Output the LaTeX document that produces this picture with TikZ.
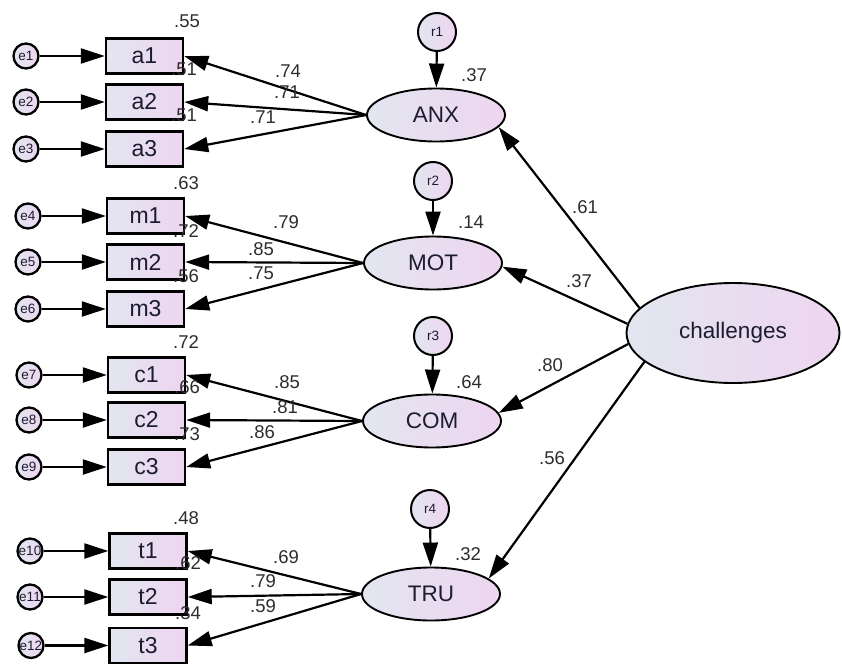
\documentclass[tikz,border=0pt]{standalone}
\usepackage{fontspec}
\setmainfont{Liberation Sans}
\usetikzlibrary{arrows.meta,shapes.geometric}
\definecolor{fillL}{RGB}{226,230,240}
\definecolor{fillR}{RGB}{238,213,240}
\definecolor{txt}{RGB}{28,28,48}
\definecolor{lbl}{RGB}{45,45,45}
\begin{document}
\begin{tikzpicture}[x=1pt,y=-1pt,
  obs/.style={draw, line width=2.4pt, rectangle, minimum width=77pt, minimum height=35pt, inner sep=0pt,
    left color=fillL, right color=fillR, font=\fontsize{23}{23}\selectfont, text=txt},
  lat/.style={draw, line width=1.9pt, ellipse, minimum width=138pt, minimum height=53pt, inner sep=0pt,
    left color=fillL, right color=fillR, font=\fontsize{22.5}{22.5}\selectfont, text=txt},
  err/.style={draw, circle, line width=2.3pt, minimum size=25pt, inner sep=0pt,
    left color=fillL, right color=fillR, font=\fontsize{13.5}{13.5}\selectfont, text=txt},
  res/.style={err, line width=2pt, minimum size=38pt},
  arr/.style={line width=2.2pt, -{Triangle[length=24pt,width=15pt]}},
  val/.style={font=\fontsize{18.5}{18.5}\selectfont, text=lbl, inner sep=0pt}
]
\fill[white] (0,0) rectangle (842,666);
\useasboundingbox (0,0) rectangle (842,666);

% observed variables
\node[obs] (a1) at (144.5,56) {a1};
\node[obs] (a2) at (144.5,102) {a2};
\node[obs] (a3) at (144.5,149) {a3};
\node[obs] (m1) at (145.5,216) {m1};
\node[obs] (m2) at (145.5,262) {m2};
\node[obs] (m3) at (145.5,309) {m3};
\node[obs] (c1) at (146.5,375) {c1};
\node[obs] (c2) at (146.5,420) {c2};
\node[obs] (c3) at (146.5,467) {c3};
\node[obs] (t1) at (148,551) {t1};
\node[obs] (t2) at (148,597) {t2};
\node[obs] (t3) at (148,645.5) {t3};

% error terms
\node[err] (e1) at (26,56) {e1};
\node[err] (e2) at (26,102) {e2};
\node[err] (e3) at (26,149) {e3};
\node[err] (e4) at (28,216) {e4};
\node[err] (e5) at (28,262) {e5};
\node[err] (e6) at (28,309) {e6};
\node[err] (e7) at (29,375) {e7};
\node[err] (e8) at (29,420) {e8};
\node[err] (e9) at (29,467) {e9};
\node[err] (e10) at (30,551) {e10};
\node[err] (e11) at (30,597) {e11};
\node[err] (e12) at (31,645.5) {e12};

% latent variables
\node[lat] (anx) at (436,115) {ANX};
\node[lat] (mot) at (433,263) {MOT};
\node[lat] (com) at (432,421) {COM};
\node[lat] (tru) at (431,594) {TRU};
\node[lat, minimum width=213pt, minimum height=100pt] (ch) at (733,333) {challenges};

% residuals
\node[res] (r1) at (437,32) {r1};
\node[res] (r2) at (433,181) {r2};
\node[res] (r3) at (433,336) {r3};
\node[res] (r4) at (430,509) {r4};

% error arrows
\foreach \e/\o in {e1/a1,e2/a2,e3/a3,e4/m1,e5/m2,e6/m3,e7/c1,e8/c2,e9/c3,e10/t1,e11/t2,e12/t3}
  \draw[arr] (\e) -- (\o.west);

% loadings
\foreach \l/\o in {anx/a1,anx/a2,anx/a3,mot/m1,mot/m2,mot/m3,com/c1,com/c2,com/c3,tru/t1,tru/t2,tru/t3}
  \draw[arr] (\l.west) -- (\o.east);

% residual arrows
\draw[arr] (r1) -- (anx);
\draw[arr] (r2) -- (mot);
\draw[arr] (r3) -- (com);
\draw[arr] (r4) -- (tru);

% structural paths
\draw[arr] (ch.165) -- (anx.-11);
\draw[arr] (ch.175) -- (mot.-3);
\draw[arr] (ch.186) -- (com.7);
\draw[arr] (ch.198) -- (tru.15);

% values
\node[val] (v1) at (187,21) {.55};
\node[val] (v2) at (184,69) {.51};
\node[val] (v3) at (184,115) {.51};
\node[val] (v4) at (288,71) {.74};
\node[val] (v5) at (287,92) {.71};
\node[val] (v6) at (263,117) {.71};
\node[val] (v7) at (474,75) {.37};

\node[val] (v8) at (186,183) {.63};
\node[val] (v9) at (186,231) {.72};
\node[val] (v10) at (186,276) {.56};
\node[val] (v11) at (286,222) {.79};
\node[val] (v12) at (261,249) {.85};
\node[val] (v13) at (261,273) {.75};
\node[val] (v14) at (471,222) {.14};

\node[val] (v15) at (186,342) {.72};
\node[val] (v16) at (187,387) {.66};
\node[val] (v17) at (187,434) {.73};
\node[val] (v18) at (287,382) {.85};
\node[val] (v19) at (285,407) {.81};
\node[val] (v20) at (262,432) {.86};
\node[val] (v21) at (469,382) {.64};

\node[val] (v22) at (186,518) {.48};
\node[val] (v23) at (188,563) {.62};
\node[val] (v24) at (188,613) {.34};
\node[val] (v25) at (286,557) {.69};
\node[val] (v26) at (263,581) {.79};
\node[val] (v27) at (263,606) {.59};
\node[val] (v28) at (468,554) {.32};

\node[val] (v29) at (585,207) {.61};
\node[val] (v30) at (579,281) {.37};
\node[val] (v31) at (550,365) {.80};
\node[val] (v32) at (552,458) {.56};
\end{tikzpicture}
\end{document}
